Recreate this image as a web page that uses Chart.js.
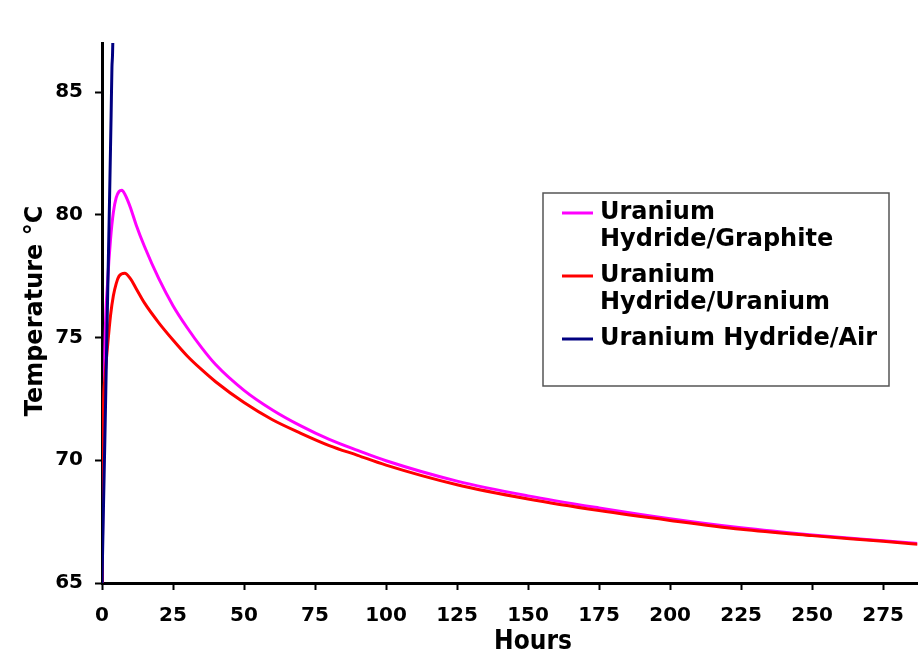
<!DOCTYPE html>
<html>
<head>
<meta charset="utf-8">
<script src="https://cdn.jsdelivr.net/npm/chart.js@4/dist/chart.umd.min.js"></script>
<style>
  html, body { margin: 0; padding: 0; background: #fff; }
  #wrap { width: 918px; height: 652px; }
</style>
</head>
<body>
<div id="wrap"><canvas id="tempChart" width="918" height="652"></canvas></div>
<script>
// Series (hours, temperature in C)
const graphiteHours = [0, 1, 2, 3, 4, 5, 6, 7, 8, 9, 10, 12, 15, 20, 25, 30, 35, 40, 50, 60, 70, 80, 90, 100, 125, 150, 175, 200, 225, 250, 275, 290];
const graphiteTemp  = [65, 74.5, 77.3, 79.0, 80.1, 80.7, 80.95, 81.0, 80.85, 80.6, 80.3, 79.6, 78.7, 77.4, 76.3, 75.4, 74.6, 73.9, 72.85, 72.05, 71.4, 70.85, 70.4, 69.98, 69.15, 68.55, 68.06, 67.62, 67.25, 66.96, 66.72, 66.58];

const uraniumHours = [0, 0.5, 1, 2, 3, 4, 5, 6, 8, 10, 12, 15, 20, 25, 30, 35, 40, 50, 60, 70, 80, 90, 100, 125, 150, 175, 200, 225, 250, 275, 290];
const uraniumTemp  = [65, 72, 73.3, 74.7, 75.9, 76.7, 77.2, 77.5, 77.62, 77.4, 77.0, 76.4, 75.6, 74.9, 74.25, 73.7, 73.2, 72.35, 71.65, 71.1, 70.6, 70.2, 69.8, 69.0, 68.42, 67.95, 67.55, 67.19, 66.93, 66.7, 66.55];

const airHours = [0, 0.5, 1, 1.5, 2, 2.5, 2.8, 3.2, 3.5, 3.7, 4];
const airTemp  = [65, 68, 70.8, 73.8, 76.8, 79.7, 81.5, 84, 86, 86.5, 88];

const seriesLabels = [['Uranium', 'Hydride/Graphite'], ['Uranium', 'Hydride/Uranium'], ['Uranium Hydride/Air']];
const seriesColors = ['#ff00ff', '#ff0000', '#000080'];

const xTickValues = [0, 25, 50, 75, 100, 125, 150, 175, 200, 225, 250, 275];
const yTickValues = [65, 70, 75, 80, 85];
const xMin = 0, xMax = 287;
const yMin = 65, yMax = 87;

function toPoints(xs, ys) {
    return xs.map((x, i) => ({ x: x, y: ys[i] }));
}

const tickFont = { family: "'DejaVu Sans', Verdana, sans-serif", size: 20, weight: 'bold' };

// legend box + axis titles drawn by hand so they sit where the original has them
const extrasPlugin = {
    id: 'extras',
    afterDraw(chart) {
        const ctx = chart.ctx;
        ctx.save();
        // legend
        ctx.fillStyle = '#fff';
        ctx.fillRect(543, 193, 346, 193);
        ctx.strokeStyle = '#555';
        ctx.lineWidth = 1.5;
        ctx.strokeRect(543, 193, 346, 193);
        ctx.font = "bold 24px 'DejaVu Sans', Verdana, sans-serif";
        ctx.textBaseline = 'middle';
        ctx.textAlign = 'left';
        let y = 213;
        seriesLabels.forEach((lines, i) => {
            ctx.strokeStyle = seriesColors[i];
            ctx.lineWidth = 3;
            ctx.beginPath();
            ctx.moveTo(562, y);
            ctx.lineTo(593, y);
            ctx.stroke();
            ctx.fillStyle = '#000';
            lines.forEach((t, j) => ctx.fillText(t, 600, y + j * 27));
            y += lines.length * 27 + 9;
        });
        // y title
        ctx.save();
        ctx.translate(36, 311);
        ctx.rotate(-Math.PI / 2);
        ctx.textAlign = 'center';
        ctx.font = "bold 24px 'DejaVu Sans', Verdana, sans-serif";
        ctx.fillText('Temperature \u00B0C', 0, 0);
        ctx.restore();
        // x title
        ctx.textAlign = 'center';
        ctx.textBaseline = 'alphabetic';
        ctx.font = "bold 26px 'Liberation Sans Narrow', 'DejaVu Sans Condensed', sans-serif";
        ctx.fillText('Hours', 533, 649);
        ctx.restore();
    }
};

const chart = new Chart(document.getElementById('tempChart').getContext('2d'), {
    type: 'line',
    data: {
        datasets: [
            { label: seriesLabels[0].join(' '), data: toPoints(graphiteHours, graphiteTemp), borderColor: seriesColors[0], order: 2 },
            { label: seriesLabels[1].join(' '), data: toPoints(uraniumHours, uraniumTemp), borderColor: seriesColors[1], order: 1 },
            { label: seriesLabels[2].join(' '), data: toPoints(airHours, airTemp), borderColor: seriesColors[2], order: 0 }
        ].map(d => Object.assign(d, { borderWidth: 3, pointRadius: 0, fill: false, cubicInterpolationMode: 'monotone' }))
    },
    options: {
        responsive: false,
        animation: false,
        layout: { padding: { top: 43, right: 0, left: 0, bottom: 0 } },
        plugins: { legend: { display: false }, tooltip: { enabled: false } },
        scales: {
            x: {
                type: 'linear',
                min: xMin,
                max: xMax,
                ticks: { color: '#000', font: tickFont, padding: 14, maxRotation: 0 },
                afterBuildTicks: s => { s.ticks = xTickValues.map(v => ({ value: v })); },
                afterFit: s => { s.height = 69; },
                grid: { drawOnChartArea: false, tickLength: 7, tickColor: '#000', tickWidth: 2 },
                border: { color: '#000', width: 3 }
            },
            y: {
                min: yMin,
                max: yMax,
                ticks: { color: '#000', font: tickFont, padding: 12 },
                afterBuildTicks: s => { s.ticks = yTickValues.map(v => ({ value: v })); },
                afterFit: s => { s.width = 102; },
                grid: { drawOnChartArea: false, tickLength: 7, tickColor: '#000', tickWidth: 2 },
                border: { color: '#000', width: 3 }
            }
        }
    },
    plugins: [extrasPlugin]
});
</script>
</body>
</html>
